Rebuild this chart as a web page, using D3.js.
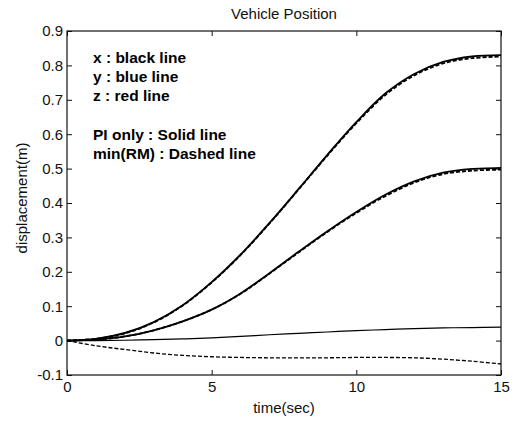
<!DOCTYPE html>
<html lang="en">
  <head>
    <meta charset="utf-8" />
    <title>Vehicle Position</title>
    <script type="text/javascript" src="https://cdn.jsdelivr.net/npm/d3@7"></script>
    <style>
      body { margin: 0; background: white; }
      text { font-family: "Liberation Sans", Arial, sans-serif; }
    </style>
  </head>
  <body>
    <script type="text/javascript">
// time samples (sec)
var time = [0, 1, 2, 3, 4, 5, 6, 7, 8, 9, 10, 11, 12, 13, 14, 15];
// x : PI only / min(RM)
var xSolid  = [0, 0.005, 0.022, 0.054, 0.103, 0.170, 0.250, 0.342, 0.440, 0.540, 0.635, 0.718, 0.775, 0.810, 0.826, 0.830];
var xDashed = [0, 0.005, 0.021, 0.053, 0.102, 0.169, 0.249, 0.341, 0.439, 0.538, 0.632, 0.714, 0.771, 0.806, 0.821, 0.826];
// y
var ySolid  = [0, 0.003, 0.012, 0.030, 0.056, 0.090, 0.137, 0.196, 0.258, 0.318, 0.374, 0.424, 0.463, 0.488, 0.499, 0.502];
var yDashed = [0, 0.003, 0.012, 0.030, 0.056, 0.090, 0.136, 0.195, 0.256, 0.316, 0.371, 0.420, 0.459, 0.484, 0.494, 0.497];
// z
var zSolid  = [0, 0.000, 0.001, 0.003, 0.005, 0.008, 0.012, 0.017, 0.021, 0.025, 0.029, 0.032, 0.035, 0.037, 0.038, 0.039];
var zDashed = [0, -0.015, -0.026, -0.036, -0.043, -0.047, -0.049, -0.050, -0.050, -0.050, -0.049, -0.049, -0.050, -0.054, -0.060, -0.068];

var xTicks = [0, 5, 10, 15];
var xTickLabels = ["0", "5", "10", "15"];
var yTicks = [-0.1, 0, 0.1, 0.2, 0.3, 0.4, 0.5, 0.6, 0.7, 0.8, 0.9];
var yTickLabels = ["-0.1", "0", "0.1", "0.2", "0.3", "0.4", "0.5", "0.6", "0.7", "0.8", "0.9"];
var notes = ["x : black line", "y : blue line", "z : red line", "", "PI only : Solid line", "min(RM) : Dashed line"];

var w = 518;
var h = 421;
var pad = { left: 67, right: 17, top: 31, bottom: 46 };

var svg = d3.select("body")
            .append("svg")
            .attr("width", w)
            .attr("height", h);

var xScale = d3.scaleLinear()
               .domain([0, 15])
               .range([pad.left, w - pad.right]);
var yScale = d3.scaleLinear()
               .domain([-0.1, 0.9])
               .range([h - pad.bottom, pad.top]);

function fmtX(d) { return xTickLabels[xTicks.indexOf(d)]; }
function fmtY(d) { return yTickLabels[yTicks.indexOf(d)]; }

// axes with inward ticks on all four sides
svg.append("g")
   .attr("transform", "translate(0," + (h - pad.bottom) + ")")
   .call(d3.axisBottom(xScale).tickValues(xTicks).tickFormat(fmtX)
           .tickSizeInner(-5).tickSizeOuter(0).tickPadding(6));
svg.append("g")
   .attr("transform", "translate(0," + pad.top + ")")
   .call(d3.axisTop(xScale).tickValues(xTicks).tickFormat("")
           .tickSizeInner(-5).tickSizeOuter(0));
svg.append("g")
   .attr("transform", "translate(" + pad.left + ",0)")
   .call(d3.axisLeft(yScale).tickValues(yTicks).tickFormat(fmtY)
           .tickSizeInner(-5).tickSizeOuter(0).tickPadding(4));
svg.append("g")
   .attr("transform", "translate(" + (w - pad.right) + ",0)")
   .call(d3.axisRight(yScale).tickValues(yTicks).tickFormat("")
           .tickSizeInner(-5).tickSizeOuter(0));

svg.selectAll(".tick text")
   .attr("font-family", "Liberation Sans, Arial, sans-serif")
   .attr("font-size", "15px")
   .attr("fill", "#111");
svg.selectAll(".domain").remove();
svg.selectAll(".tick line").attr("stroke", "#111");

// plot box
svg.append("rect")
   .attr("x", pad.left)
   .attr("y", pad.top)
   .attr("width", w - pad.left - pad.right)
   .attr("height", h - pad.top - pad.bottom)
   .attr("fill", "none")
   .attr("stroke", "#111")
   .attr("stroke-width", 1.2);

var line = d3.line()
             .x(function(d) { return xScale(d[0]); })
             .y(function(d) { return yScale(d[1]); })
             .curve(d3.curveCatmullRom.alpha(0.5));

var series = [
  { vals: xSolid, dash: null, width: 1.9 },
  { vals: xDashed, dash: "4,2", width: 1.9 },
  { vals: ySolid, dash: null, width: 1.8 },
  { vals: yDashed, dash: "4,2", width: 1.8 },
  { vals: zSolid, dash: null, width: 1.2 },
  { vals: zDashed, dash: "4,2", width: 1.3 }
];

svg.append("g")
   .attr("id", "lines")
   .selectAll("path")
   .data(series)
   .enter()
   .append("path")
   .attr("d", function(s) {
     return line(time.map(function(t, i) { return [t, s.vals[i]]; }));
   })
   .attr("fill", "none")
   .attr("stroke", "#000")
   .attr("stroke-width", function(s) { return s.width; })
   .attr("stroke-dasharray", function(s) { return s.dash; });

// notes inside the plot
svg.append("g")
   .selectAll("text")
   .data(notes)
   .enter()
   .append("text")
   .text(function(d) { return d; })
   .attr("x", 93)
   .attr("y", function(d, i) { return 63 + i * 19.2; })
   .attr("font-size", "15.5px")
   .attr("font-weight", "bold")
   .attr("fill", "#000");

// title and axis labels
svg.append("text")
   .text("Vehicle Position")
   .attr("x", (pad.left + w - pad.right) / 2)
   .attr("y", 19)
   .attr("text-anchor", "middle")
   .attr("font-size", "15px")
   .attr("fill", "#111");
svg.append("text")
   .text("time(sec)")
   .attr("x", (pad.left + w - pad.right) / 2)
   .attr("y", 413)
   .attr("text-anchor", "middle")
   .attr("font-size", "15px")
   .attr("fill", "#111");
svg.append("text")
   .text("displacement(m)")
   .attr("transform", "translate(27,198) rotate(-90)")
   .attr("text-anchor", "middle")
   .attr("font-size", "15px")
   .attr("fill", "#111");
    </script>
  </body>
</html>
